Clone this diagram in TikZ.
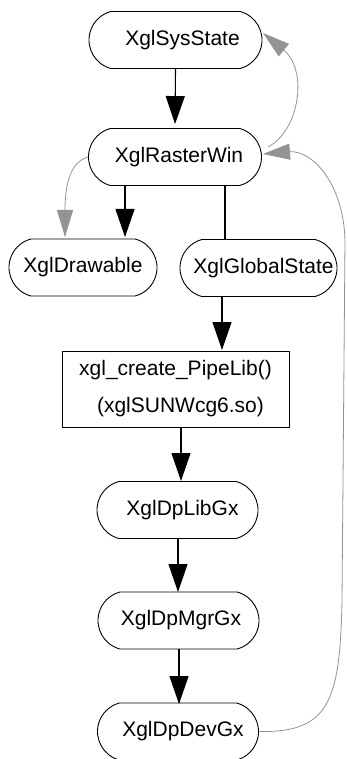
\documentclass[tikz,border=0pt]{standalone}
\usepackage{fontspec}
\setmainfont{Liberation Sans}
\usetikzlibrary{arrows.meta,shapes.misc}
\begin{document}
\begin{tikzpicture}[x=1pt,y=-1pt,
  pill/.style={draw, line width=0.9pt, rounded rectangle, rounded rectangle arc length=150, minimum height=57pt, inner sep=0pt, font=\fontsize{21}{24}\selectfont},
  boxnode/.style={draw, line width=0.9pt, minimum width=227pt, minimum height=76pt, inner sep=0pt, align=center, font=\fontsize{21}{37}\selectfont},
  link/.style={line width=1.1pt, -{Triangle[length=28pt,width=19pt]}},
  plain/.style={line width=1.1pt},
  grayback/.style={line width=0.8pt, draw=gray!85, -{Triangle[length=27pt,width=16pt,fill=gray!85]}}]
\useasboundingbox (0,0) rectangle (346,759);
\node[pill, minimum width=173pt] (sys) at (175.5,40) {\hspace*{14pt}XglSysState};
\node[pill, minimum width=173pt] (raster) at (175,157) {\hspace*{8pt}XglRasterWin};
\node[pill, minimum width=148pt] (drawable) at (83,267.5) {XglDrawable};
\node[pill, minimum width=157pt] (global) at (258.5,268) {\hspace*{10pt}XglGlobalState};
\node[boxnode] (pipe) at (175.5,389) {xgl\_create\_PipeLib()\\\hspace*{10pt}(xglSUNWcg6.so)};
\node[pill, minimum width=161pt] (lib) at (177.5,510) {\hspace*{10pt}XglDpLibGx};
\node[pill, minimum width=161pt] (mgr) at (178.5,620.5) {\hspace*{5pt}XglDpMgrGx};
\node[pill, minimum width=161pt] (dev) at (178,731.5) {\hspace*{10pt}XglDpDevGx};

% main chain
\draw[link, shorten >=4pt] (sys.south) -- (raster.north);
\draw[link] (125,186) -- (125,237);
\draw[plain] (225,186) -- (225,239);
\draw[link] (222,297) -- (222,350);
\draw[link] (181,427) -- (181,481);
\draw[link] (178,538.5) -- (178,592);
\draw[link] (179,649) -- (179,704);

% gray back edges
\coordinate (sysin) at (263,33);
\coordinate (rasterin) at (263,154);
\coordinate (drawin) at (65,237);
\draw[grayback] (268,147) .. controls (300,130) and (308,70) .. (sysin);
\draw[grayback] (dev.east) .. controls (330,733) and (340,700) .. (342,600)
  -- (345,240) .. controls (343,180) and (310,150) .. (rasterin);
\draw[grayback] (raster.west) .. controls (70,162) and (65,185) .. (drawin);
\end{tikzpicture}
\end{document}
